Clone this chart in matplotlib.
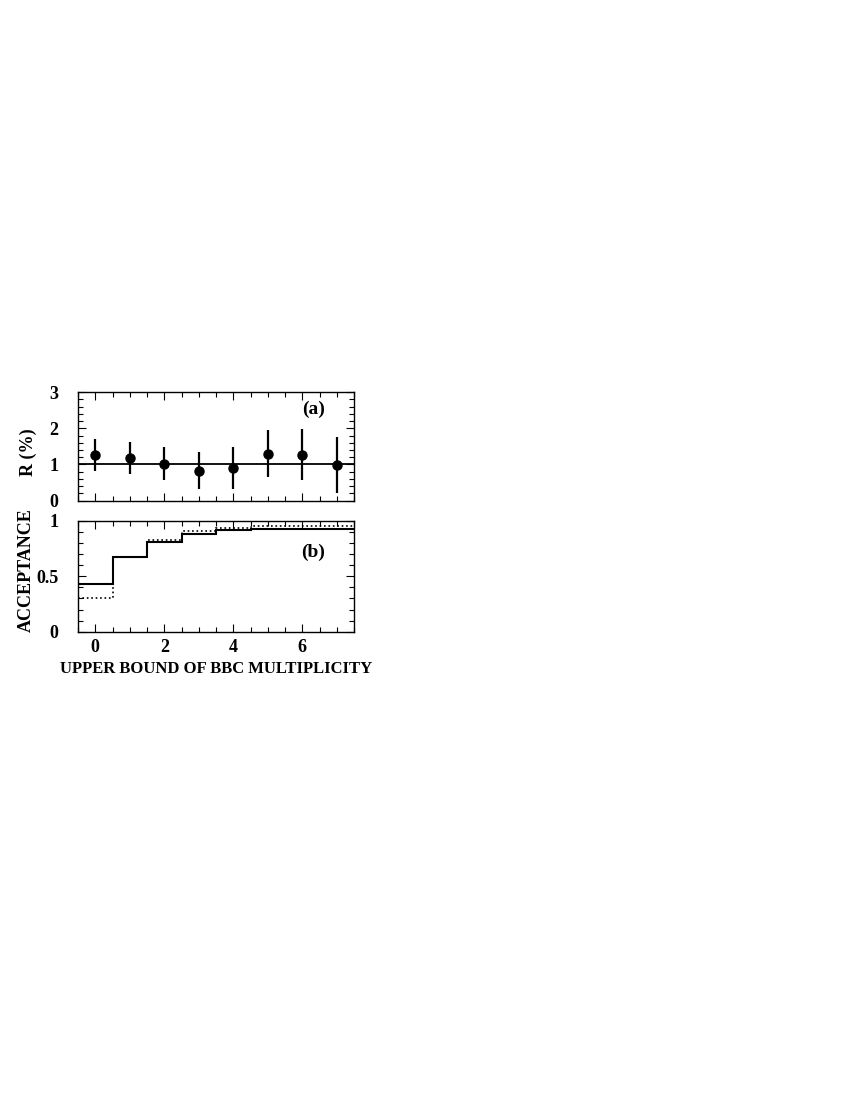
import numpy as np
import matplotlib
matplotlib.use('Agg')
import matplotlib.pyplot as plt
from matplotlib.ticker import MultipleLocator, FormatStrFormatter

plt.rcParams['font.family'] = ['Liberation Serif', 'DejaVu Serif']
plt.rcParams['font.weight'] = 'bold'

# panel (a): R (%) vs upper bound of BBC multiplicity
mult = [0, 1, 2, 3, 4, 5, 6, 7]
r_val = [1.26, 1.18, 1.02, 0.83, 0.90, 1.30, 1.27, 0.99]
r_err = [0.44, 0.44, 0.46, 0.51, 0.57, 0.64, 0.71, 0.77]
r_mean = 1.02

# panel (b): acceptance histograms
edges = [-0.5, 0.5, 1.5, 2.5, 3.5, 4.5, 5.5, 6.5, 7.5]
acc_solid = [0.431, 0.672, 0.807, 0.886, 0.916, 0.926, 0.928, 0.930]
acc_dotted = [0.301, 0.678, 0.825, 0.910, 0.940, 0.950, 0.955, 0.955]

fig = plt.figure(figsize=(8.5, 11), dpi=100)
ax1 = fig.add_axes([0.0918, 0.5448, 0.3247, 0.0988])
ax2 = fig.add_axes([0.0918, 0.4257, 0.3247, 0.1007])

ax1.errorbar(mult, r_val, yerr=r_err, fmt='o', color='black', ms=6.5,
             elinewidth=1.6, capsize=0)
ax1.axhline(r_mean, color='black', lw=1.3)
ax1.set_ylim(0, 3)
ax1.yaxis.set_major_locator(MultipleLocator(1))
ax1.yaxis.set_minor_locator(MultipleLocator(0.2))
ax1.set_ylabel('R (%)', fontsize=13, fontweight='bold')
ax1.yaxis.set_label_coords(-0.149, 0.45)
ax1.text(0.895, 0.84, '(a)', transform=ax1.transAxes, ha='right', va='center',
         fontsize=14, fontweight='bold')
ax1.tick_params(labelbottom=False)

ax2.stairs(acc_solid, edges, baseline=None, color='black', lw=1.5)
ax2.stairs(acc_dotted, edges, baseline=None, color='black', lw=1.2, ls=':')
ax2.set_ylim(0, 1)
ax2.yaxis.set_major_locator(MultipleLocator(0.5))
ax2.yaxis.set_minor_locator(MultipleLocator(0.1))
ax2.yaxis.set_major_formatter(FormatStrFormatter('%g'))
ax2.set_ylabel('ACCEPTANCE', fontsize=13, fontweight='bold')
ax2.yaxis.set_label_coords(-0.156, 0.557)
ax2.set_xlabel('UPPER BOUND OF BBC MULTIPLICITY', fontsize=12, fontweight='bold',
               labelpad=4)
ax2.text(0.895, 0.72, '(b)', transform=ax2.transAxes, ha='right', va='center',
         fontsize=14, fontweight='bold')

for ax in (ax1, ax2):
    ax.set_xlim(-0.5, 7.5)
    ax.xaxis.set_major_locator(MultipleLocator(2))
    ax.xaxis.set_minor_locator(MultipleLocator(0.5))
    ax.tick_params(which='both', direction='in', top=True, right=True,
                   labelsize=13, width=0.8)
    ax.tick_params(axis='y', which='major', pad=14)
    ax.tick_params(axis='x', which='major', pad=5)
    ax.tick_params(which='major', length=6)
    ax.tick_params(which='minor', length=3.5)
    for lab in ax.get_xticklabels() + ax.get_yticklabels():
        lab.set_fontweight('bold')
    for s in ax.spines.values():
        s.set_linewidth(1.0)

fig.savefig('out.png', dpi=100)
